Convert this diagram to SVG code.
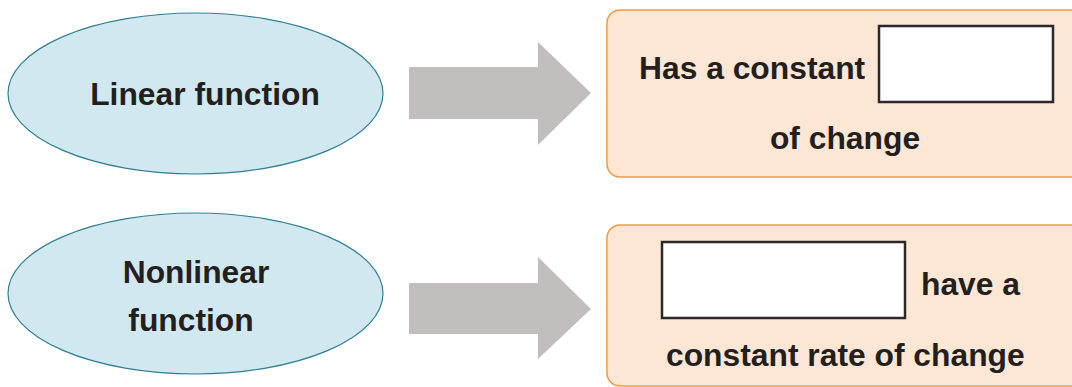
<svg xmlns="http://www.w3.org/2000/svg" width="1072" height="387" viewBox="0 0 1072 387">
<style>
.ell{fill:#d1e8f0;stroke:#2f7f93;stroke-width:1.2}
.box{fill:#fde6d4;stroke:#f39a3f;stroke-width:1.5}
.blank{fill:#ffffff;stroke:#2a2828;stroke-width:2.5}
.arr{fill:#c2bebd}
.t{font-family:"Liberation Sans",Arial,sans-serif;font-weight:bold;font-size:31.8px;fill:#231f20}
.m{text-anchor:middle}
</style>
<rect width="1072" height="387" fill="#ffffff"/>
<g id="linear">
<ellipse class="ell" cx="195.5" cy="93.5" rx="187.5" ry="80.5"/>
<text class="t m" x="205" y="105">Linear function</text>
</g>
<g id="nonlinear">
<ellipse class="ell" cx="195.5" cy="293.5" rx="187.5" ry="80.5"/>
<text class="t m" x="196" y="283">Nonlinear</text>
<text class="t m" x="191" y="331">function</text>
</g>
<g id="connectors">
<polygon class="arr" points="409,67 538,67 538,42 591,93 538,145 538,119 409,119"/>
<polygon class="arr" points="409,283 538,283 538,257 591,309 538,359 538,334 409,334"/>
</g>
<g id="linear-desc">
<rect class="box" x="607" y="10" width="490" height="167" rx="13"/>
<text class="t" x="639" y="79">Has a constant</text>
<rect class="blank" x="879" y="26" width="174" height="76"/>
<text class="t m" x="845" y="149">of change</text>
</g>
<g id="nonlinear-desc">
<rect class="box" x="607" y="225" width="490" height="161" rx="13"/>
<rect class="blank" x="662" y="242" width="243" height="76"/>
<text class="t" x="921" y="295">have a</text>
<text class="t" x="666" y="366">constant rate of change</text>
</g>
</svg>
